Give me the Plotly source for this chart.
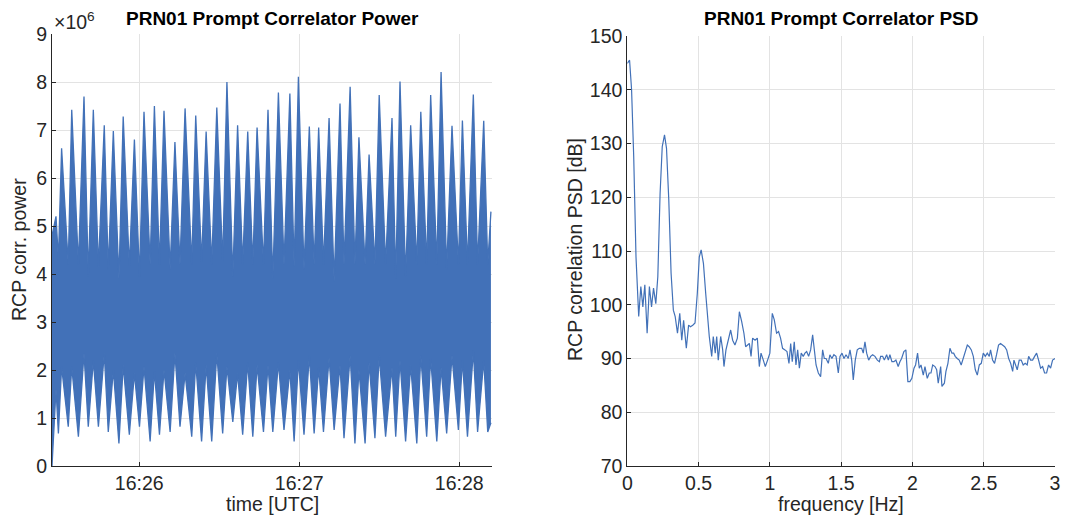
import pandas as pd
import plotly.graph_objects as go

# ---------------- Left panel: envelope readings (seconds after 16:25:00, values x1e6)
start_t, start_hi, start_lo = 27.3, 4.8, 0.0
end_t, end_hi, end_lo = 191.9, 5.3, 0.9

peak_t = [28.8, 30.9, 34.7, 39.3, 42.8, 46.9, 50.3, 54.0, 58.2, 61.8, 65.7, 69.3, 73.4, 77.2,
          81.2, 85.1, 89.1, 92.9, 96.9, 100.7, 104.2, 108.3, 112.2, 116.5, 119.7, 123.8, 127.3,
          131.2, 135.3, 139.1, 142.4, 146.2, 150.0, 154.8, 157.8, 161.8, 165.6, 169.3, 173.2,
          177.3, 181.2, 185.3, 189.2]
peak_v = [5.2, 6.62, 7.42, 7.7, 7.42, 7.1, 6.98, 7.28, 6.8, 7.38, 7.5, 7.4, 6.75, 7.45, 7.3,
          6.97, 7.47, 8.0, 7.1, 6.97, 7.05, 7.42, 7.78, 7.76, 8.11, 7.07, 7.05, 7.25, 7.55, 7.9,
          6.85, 6.49, 7.73, 7.25, 8.01, 7.1, 7.38, 7.73, 8.21, 7.09, 7.2, 7.74, 7.19]
crest_v = [1.6, 2.07, 2.07, 2.35, 2.2, 2.35, 2.0, 2.1, 1.93, 2.07, 1.97, 2.0, 2.35, 1.93, 2.15,
           2.1, 2.35, 2.07, 1.93, 2.15, 2.1, 2.1, 2.15, 2.0, 2.2, 2.3, 2.05, 2.25, 2.1, 2.3, 2.0,
           2.15, 2.3, 2.05, 2.2, 2.1, 2.3, 2.25, 2.05, 2.3, 2.2, 2.4, 2.2]
valley_t = [29.7, 33.4, 37.2, 40.9, 44.7, 48.4, 52.4, 56.3, 60.1, 64.1, 67.6, 71.6, 75.3, 79.7,
            83.4, 87.2, 91.3, 95.1, 98.8, 102.6, 106.6, 110.1, 114.3, 118.1, 121.8, 125.6, 129.1,
            133.1, 136.8, 140.9, 144.7, 148.4, 152.4, 156.2, 159.9, 164.1, 167.8, 171.6, 175.3,
            179.7, 183.1, 186.9, 190.7]
valley_v = [4.3, 4.2, 4.2, 3.95, 4.15, 4.1, 3.9, 4.15, 3.95, 4.2, 4.2, 4.1, 4.2, 4.2, 4.25, 4.2,
            4.25, 3.95, 4.2, 4.2, 4.2, 3.9, 4.2, 4.15, 4.1, 4.2, 4.2, 3.85, 4.2, 4.2, 4.2, 4.2, 4.2,
            3.9, 3.95, 4.2, 4.2, 4.2, 4.1, 4.2, 4.2, 4.2, 4.2]
trough_v = [0.68, 0.82, 0.61, 0.82, 0.82, 0.71, 0.47, 0.65, 0.82, 0.51, 0.65, 0.71, 0.82, 0.61,
            0.51, 0.51, 0.68, 0.92, 0.65, 0.61, 0.71, 0.71, 0.75, 0.51, 0.65, 0.68, 0.71, 0.75,
            0.58, 0.47, 0.47, 0.58, 0.61, 0.61, 0.51, 0.47, 0.61, 0.51, 0.68, 0.75, 0.61, 0.71, 0.71]

time_ticks = ["16:26", "16:27", "16:28"]

# ---------------- Right panel: PSD readings
freq = [0.000, 0.016, 0.030, 0.045, 0.061, 0.068, 0.080, 0.095, 0.109, 0.123, 0.139, 0.155,
        0.170, 0.184, 0.200, 0.214, 0.230, 0.245, 0.261, 0.275, 0.291, 0.307, 0.323, 0.336,
        0.352, 0.368, 0.382, 0.395, 0.414, 0.430, 0.443, 0.459, 0.475, 0.491, 0.505, 0.518,
        0.534, 0.550, 0.575, 0.592, 0.603, 0.617, 0.627, 0.638, 0.655, 0.669, 0.678, 0.692,
        0.708, 0.725, 0.739, 0.755, 0.772, 0.786, 0.802, 0.818, 0.830, 0.844, 0.856, 0.868,
        0.879, 0.896, 0.912, 0.926, 0.938, 0.954, 0.968, 0.984, 1.000, 1.017, 1.031, 1.047,
        1.061, 1.075, 1.089, 1.106, 1.120, 1.134, 1.146, 1.157, 1.171, 1.183, 1.195, 1.207,
        1.220, 1.234, 1.246, 1.258, 1.272, 1.286, 1.300, 1.312, 1.324, 1.340, 1.356, 1.370,
        1.382, 1.394, 1.410, 1.421, 1.435, 1.449, 1.464, 1.480, 1.492, 1.506, 1.520, 1.534,
        1.550, 1.562, 1.574, 1.585, 1.599, 1.613, 1.627, 1.644, 1.655, 1.667, 1.679, 1.693,
        1.707, 1.721, 1.737, 1.754, 1.768, 1.777, 1.791, 1.803, 1.819, 1.831, 1.842, 1.856,
        1.870, 1.884, 1.900, 1.912, 1.924, 1.940, 1.954, 1.968, 1.982, 1.996, 2.011, 2.022,
        2.036, 2.048, 2.060, 2.076, 2.088, 2.104, 2.118, 2.130, 2.142, 2.158, 2.170, 2.181,
        2.198, 2.207, 2.224, 2.235, 2.249, 2.263, 2.277, 2.289, 2.300, 2.314, 2.328, 2.342,
        2.356, 2.371, 2.385, 2.398, 2.413, 2.427, 2.441, 2.455, 2.469, 2.483, 2.497, 2.511,
        2.525, 2.539, 2.548, 2.562, 2.576, 2.590, 2.604, 2.618, 2.633, 2.647, 2.661, 2.675,
        2.689, 2.703, 2.712, 2.721, 2.735, 2.749, 2.763, 2.777, 2.791, 2.805, 2.815, 2.829,
        2.843, 2.857, 2.871, 2.885, 2.899, 2.913, 2.927, 2.941, 2.955, 2.969, 2.983, 3.000]
psd_db = [144.9, 145.5, 140.0, 127.5, 108.9, 103.4, 97.8, 103.4, 99.6, 103.7, 94.7, 103.4,
          99.6, 103.1, 100.2, 105.2, 120.7, 129.4, 131.6, 129.1, 119.5, 105.9, 99.0, 97.8,
          94.7, 98.4, 93.4, 97.1, 91.9, 96.2, 95.9, 96.2, 96.6, 102.1, 108.9, 110.2,
          107.7, 102.1, 94.1, 90.4, 94.1, 91.0, 94.1, 89.7, 94.1, 91.6, 88.5, 91.6,
          93.4, 95.3, 93.4, 92.5, 93.8, 98.7, 96.9, 94.7, 92.2, 92.5, 92.8, 90.4,
          93.8, 93.4, 93.8, 88.5, 91.0, 89.7, 88.5, 89.7, 91.0, 98.4, 97.2, 94.7,
          95.0, 93.8, 91.9, 91.6, 91.3, 89.1, 92.8, 89.4, 93.1, 88.8, 91.6, 88.2,
          91.0, 90.4, 91.0, 91.3, 90.4, 91.6, 94.4, 91.6, 88.8, 87.3, 86.6, 91.6,
          90.0, 90.0, 89.1, 90.7, 90.0, 90.7, 90.4, 87.3, 90.4, 91.0, 90.0, 90.7,
          90.0, 91.6, 89.7, 86.0, 89.7, 91.6, 91.9, 91.9, 91.0, 93.1, 91.0, 89.7,
          90.4, 90.7, 90.4, 89.7, 89.4, 90.4, 90.4, 89.7, 90.7, 89.7, 90.7, 89.4,
          89.4, 89.7, 88.5, 89.4, 90.0, 91.3, 91.6, 85.7, 85.7, 86.3, 88.2, 88.8,
          91.0, 88.2, 88.8, 86.9, 88.5, 86.3, 87.3, 87.3, 88.8, 88.5, 87.9, 85.4,
          88.5, 84.8, 85.4, 87.6, 89.1, 91.9, 91.0, 91.0, 90.4, 90.0, 89.7, 88.8,
          90.0, 91.3, 92.5, 92.2, 91.6, 90.4, 87.9, 86.9, 88.8, 89.1, 91.0, 90.4,
          91.0, 90.4, 91.6, 89.7, 89.1, 90.7, 92.5, 92.8, 92.5, 92.2, 91.6, 90.0,
          89.1, 87.6, 89.7, 88.8, 87.9, 89.7, 89.7, 88.8, 89.1, 88.8, 90.4, 89.7,
          89.7, 90.4, 91.0, 89.7, 88.2, 88.5, 87.3, 87.3, 88.8, 88.2, 89.7, 90.0]

# ---------------- build envelopes
base = pd.Timestamp("2016-01-01 16:25:00")
def ts(sec):
    return base + pd.to_timedelta(sec, unit="s")

up_pts = [(start_t, start_hi)] + list(zip(peak_t, peak_v)) + list(zip(valley_t, valley_v)) + [(end_t, end_hi)]
lo_pts = [(start_t, start_lo)] + list(zip(peak_t, crest_v)) + list(zip(valley_t, trough_v)) + [(end_t, end_lo)]
up_pts.sort()
lo_pts.sort()

BLUE = "#4271B8"
FONT = "Liberation Sans, Arial, Helvetica, sans-serif"
TXT = "#262626"
GRID = "#e3e3e3"
FS = 19.5

fig = go.Figure()
fig.add_trace(go.Scatter(x=[ts(t) for t, _ in up_pts], y=[v for _, v in up_pts], mode="lines",
                         line=dict(color=BLUE, width=1.3), xaxis="x", yaxis="y", showlegend=False,
                         hoverinfo="skip"))
fig.add_trace(go.Scatter(x=[ts(t) for t, _ in lo_pts], y=[v for _, v in lo_pts], mode="lines",
                         line=dict(color=BLUE, width=1.3), fill="tonexty", fillcolor=BLUE,
                         xaxis="x", yaxis="y", showlegend=False, hoverinfo="skip"))
fig.add_trace(go.Scatter(x=freq, y=psd_db, mode="lines", line=dict(color=BLUE, width=1.2),
                         xaxis="x2", yaxis="y2", showlegend=False))

W, H = 1075, 516
def px_x(p): return p / W
def px_y(p): return 1 - p / H

axis_common = dict(showline=True, linecolor=TXT, linewidth=1, mirror=False, ticks="inside",
                   ticklen=4, tickcolor=TXT, showgrid=True, gridcolor=GRID, gridwidth=1,
                   zeroline=False, automargin=False,
                   tickfont=dict(family=FONT, size=FS, color=TXT))

tick_dates = [base.strftime("%Y-%m-%d ") + t + ":00" for t in time_ticks]
fig.update_layout(
    width=W, height=H, margin=dict(l=0, r=0, t=0, b=0, autoexpand=False),
    plot_bgcolor="white", paper_bgcolor="white",
    xaxis=dict(domain=[px_x(52), px_x(492)], anchor="y", type="date",
               range=[ts(27.3), ts(192.3)], tickvals=tick_dates, ticktext=time_ticks, **axis_common),
    yaxis=dict(domain=[px_y(466), px_y(34)], anchor="x", range=[0, 9], dtick=1, **axis_common),
    xaxis2=dict(domain=[px_x(627.3), px_x(1055)], anchor="y2", range=[0, 3], dtick=0.5, **axis_common),
    yaxis2=dict(domain=[px_y(466), px_y(36)], anchor="x2", range=[70, 150], dtick=10, **axis_common),
)

def ann(text, x, y, size=FS, bold=False, angle=0, color=TXT):
    fig.add_annotation(text=f"<b>{text}</b>" if bold else text, x=px_x(x), y=px_y(y),
                       xref="paper", yref="paper", showarrow=False, textangle=angle,
                       font=dict(family=FONT, size=size, color=color), xanchor="center", yanchor="middle")

ann("PRN01 Prompt Correlator Power", 272, 19, size=19, bold=True, color="black")
ann("PRN01 Prompt Correlator PSD", 841, 19, size=19, bold=True, color="black")
ann("RCP corr. power", 19, 250, angle=-90)
ann("RCP correlation PSD [dB]", 575, 250, angle=-90)
ann("time [UTC]", 272, 504)
ann("frequency [Hz]", 841, 504)
fig.add_annotation(text="×10<sup>6</sup>", x=px_x(52), y=px_y(21), xref="paper", yref="paper",
                   showarrow=False, xanchor="left", yanchor="middle",
                   font=dict(family=FONT, size=FS, color=TXT))

fig.write_html("out.html")
